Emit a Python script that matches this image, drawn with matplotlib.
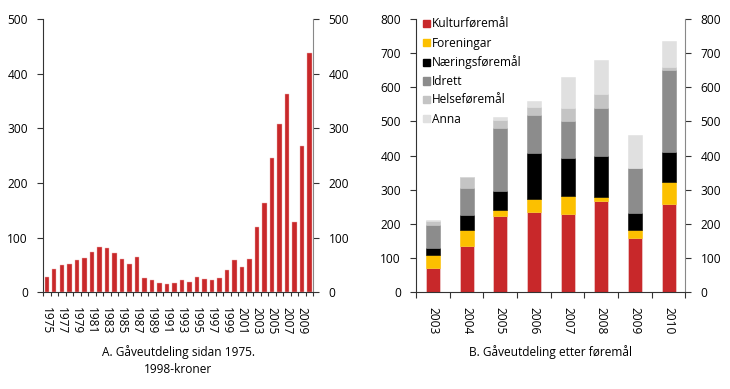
import matplotlib
matplotlib.use("Agg")
import matplotlib.pyplot as plt
import numpy as np
from matplotlib.patches import Patch

plt.rcParams['font.family'] = ['Open Sans', 'DejaVu Sans']

# Panel A
years_a = list(range(1975, 2011))
gaver_a = [28, 43, 49, 52, 59, 62, 73, 83, 80, 72, 60, 52, 64, 25, 22, 17, 14, 17,
           22, 19, 28, 24, 23, 25, 40, 58, 46, 60, 119, 164, 245, 307, 362, 129, 268, 438]
ticklabels_a = [str(y) if (y - 1975) % 2 == 0 else "" for y in years_a]

# Panel B
years_b = ["2003", "2004", "2005", "2006", "2007", "2008", "2009", "2010"]
kultur = [72, 135, 224, 234, 229, 268, 159, 259]
foreningar = [38, 47, 16, 38, 52, 10, 24, 63]
naering = [18, 44, 56, 135, 111, 121, 50, 90]
idrett = [69, 80, 185, 112, 109, 141, 132, 238]
helse = [12, 30, 23, 23, 39, 40, 0, 11]
anna = [3, 2, 8, 18, 91, 101, 95, 76]
series_names = ["Kulturføremål", "Foreningar", "Næringsføremål", "Idrett", "Helseføremål", "Anna"]
series_vals = [kultur, foreningar, naering, idrett, helse, anna]
colors = ["#c8282a", "#fcc000", "#000000", "#8c8c8c", "#c4c4c4", "#e0e0e0"]

fig = plt.figure(figsize=(7.30, 3.89), dpi=100)
fs = 8.6

def style(ax, ymax, step):
    ax.set_ylim(0, ymax)
    ax.set_yticks(np.arange(0, ymax + 1, step))
    ax.spines["top"].set_visible(False)
    ax.spines["left"].set_color("#333333")
    ax.spines["right"].set_color("#888888")
    ax.spines["bottom"].set_color("#333333")
    for s in ["left", "right", "bottom"]:
        ax.spines[s].set_linewidth(0.8)
    ax.tick_params(axis="y", which="both", left=True, right=True, labelleft=True,
                   labelright=True, labelsize=fs, length=4, width=0.8, direction="out",
                   color="#333333", pad=7)

# Left
axA = fig.add_axes([0.059, 0.249, 0.370, 0.702])
x = np.arange(len(years_a))
axA.bar(x, gaver_a, width=0.58, color="#c8282a", edgecolor="#f0b0b0", linewidth=0.3)
style(axA, 500, 100)
axA.set_xlim(-0.5, len(years_a) - 0.5)
axA.set_xticks(x)
axA.set_xticklabels(ticklabels_a, rotation=270, fontsize=fs)
axA.set_xticks(np.arange(-0.5, len(years_a)), minor=True)
axA.tick_params(axis="x", which="major", length=0, pad=11)
axA.tick_params(axis="x", which="minor", length=3, width=0.8, color="#333333")
axA.text(0.5, -0.195, "A. Gåveutdeling sidan 1975.\n1998-kroner", transform=axA.transAxes,
         ha="center", va="top", fontsize=fs, linespacing=1.35)

# Right
axB = fig.add_axes([0.570, 0.249, 0.369, 0.702])
xb = np.arange(len(years_b))
bottom = np.zeros(len(years_b))
for name, vals, c in zip(series_names, series_vals, colors):
    axB.bar(xb, vals, bottom=bottom, width=0.42, color=c, label=name,
            edgecolor="#f4dede" if c == "#c8282a" else c, linewidth=0.4)
    bottom += np.array(vals)
style(axB, 800, 100)
axB.set_xlim(-0.5, len(years_b) - 0.5)
axB.set_xticks(xb)
axB.set_xticklabels(years_b, rotation=270, fontsize=fs)
axB.set_xticks(np.arange(-0.5, len(years_b)), minor=True)
axB.tick_params(axis="x", which="major", length=0, pad=11)
axB.tick_params(axis="x", which="minor", length=4, width=0.8, color="#333333")
axB.text(0.5, -0.195, "B. Gåveutdeling etter føremål", transform=axB.transAxes,
         ha="center", va="top", fontsize=fs)

handles = [Patch(facecolor=c, edgecolor=c) for c in colors]
axB.legend(handles, series_names, loc="upper left", bbox_to_anchor=(0.0, 1.03),
           frameon=False, fontsize=fs, handlelength=0.55, handleheight=0.55,
           handletextpad=0.2, labelspacing=0.48, borderaxespad=0.2)

fig.savefig("out.png", dpi=100)
